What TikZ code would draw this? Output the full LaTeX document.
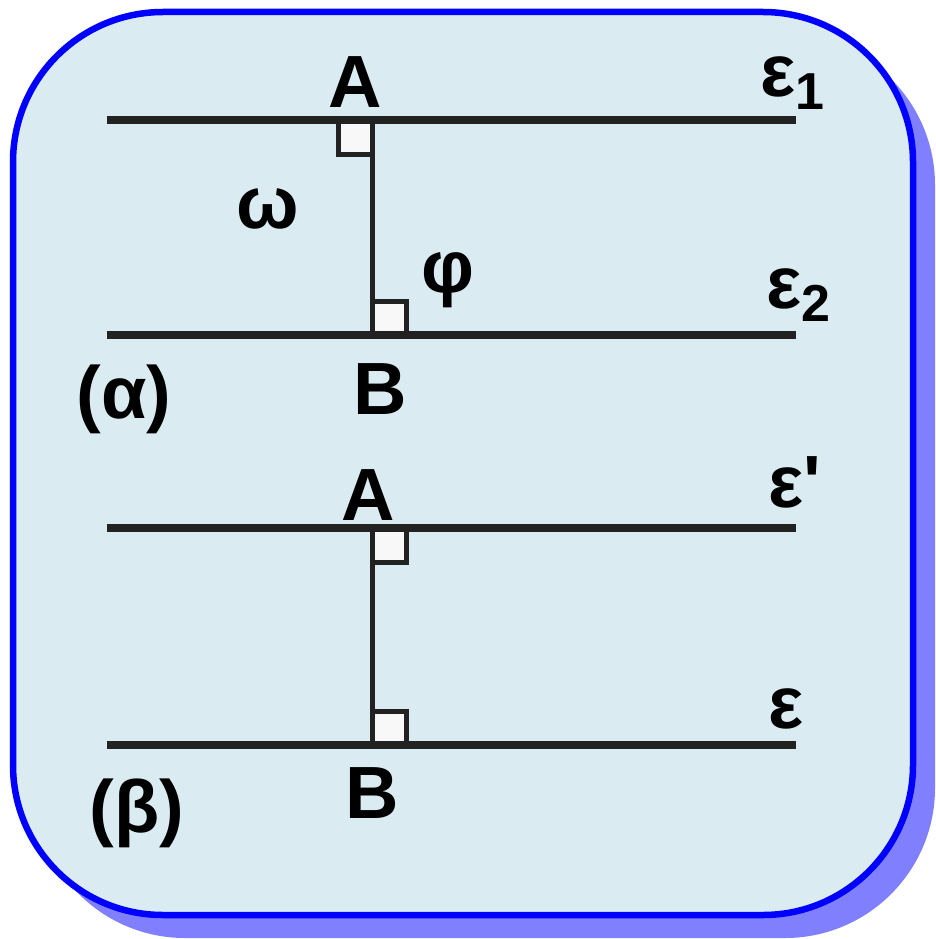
\documentclass[tikz,border=0pt]{standalone}
\usepackage{fontspec}
\setmainfont{Liberation Sans}
\newfontfamily\plainfont{Liberation Sans}
\usepackage{xcolor}
\definecolor{boxfill}{HTML}{DAECF2}
\definecolor{shadowblue}{HTML}{8080FF}
\definecolor{ink}{HTML}{222222}
\definecolor{sqfill}{HTML}{F8F8F8}
\newcommand{\lowidx}[1]{\raisebox{-13pt}{\fontsize{52}{52}\selectfont #1}}

\begin{document}
\begin{tikzpicture}[x=1pt,y=-1pt,
  lbl/.style={font=\fontsize{74}{80}\selectfont\bfseries, anchor=base, inner sep=0pt},
  parline/.style={ink, line width=7.5pt},
  perp/.style={ink, line width=5pt},
  sq/.style={draw=ink, line width=5pt, fill=sqfill}]
  \useasboundingbox (0,0) rectangle (935,939);
  % frame with shadow
  \fill[shadowblue, rounded corners=150pt] (35,35) rectangle (935,938);
  \draw[blue, line width=6.5pt, fill=boxfill, rounded corners=150pt] (13,12) rectangle (913,915);

  % (alpha)
  \coordinate (A1) at (372,120);
  \coordinate (B1) at (372,335);
  \coordinate (e1l) at (107,120);
  \coordinate (e1r) at (796,120);
  \coordinate (e2l) at (107,335);
  \coordinate (e2r) at (796,335);
  \draw[sq] (A1) rectangle ++(-34,34);
  \draw[sq] (B1) rectangle ++(34,-34);
  \draw[perp] (A1) -- (B1);
  \draw[parline] (e1l) -- (e1r);
  \draw[parline] (e2l) -- (e2r);
  \node[lbl] (labA1) at (355,108) {A};
  \node[lbl] (labB1) at (380,414) {B};
  \node[lbl] (omega) at (268,228) {ω};
  \node[lbl] (phi) at (448,292) {φ};
  \node[lbl, anchor=base west] (eps1) at (760,97) {ε\lowidx{1}};
  \node[lbl, anchor=base west] (eps2) at (766,308) {ε\lowidx{2}};
  \node[lbl] (caseA) at (124,418) {(α)};

  % (beta)
  \coordinate (A2) at (372,528);
  \coordinate (B2) at (372,745);
  \coordinate (e3l) at (107,528);
  \coordinate (e3r) at (796,528);
  \coordinate (e4l) at (107,745);
  \coordinate (e4r) at (796,745);
  \draw[sq] (A2) rectangle ++(34,34);
  \draw[sq] (B2) rectangle ++(34,-34);
  \draw[perp] (A2) -- (B2);
  \draw[parline] (e3l) -- (e3r);
  \draw[parline] (e4l) -- (e4r);
  \node[lbl] (labA2) at (368,520) {A};
  \node[lbl] (labB2) at (372,818) {B};
  \node[lbl, anchor=base west] (epsp) at (768,507) {ε{\plainfont\bfseries '}};
  \node[lbl, anchor=base west] (eps) at (768,728) {ε};
  \node[lbl] (caseB) at (137,832) {(β)};
\end{tikzpicture}
\end{document}
